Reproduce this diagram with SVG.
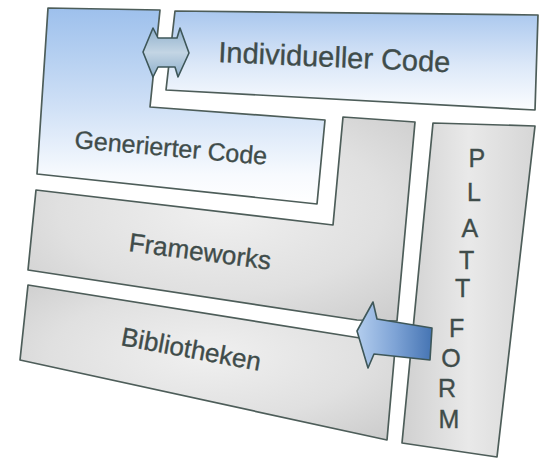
<svg xmlns="http://www.w3.org/2000/svg" width="539" height="463" viewBox="0 0 539 463">
  <defs>
    <linearGradient id="blueInd" x1="0" y1="0" x2="0" y2="1">
      <stop offset="0" stop-color="#a9c7ee"/>
      <stop offset="0.55" stop-color="#dce8f8"/>
      <stop offset="1" stop-color="#fbfdff"/>
    </linearGradient>
    <linearGradient id="blueGen" x1="0" y1="0" x2="0" y2="1">
      <stop offset="0" stop-color="#9dc0ec"/>
      <stop offset="0.5" stop-color="#cfe0f6"/>
      <stop offset="0.85" stop-color="#f7fafe"/>
      <stop offset="1" stop-color="#ffffff"/>
    </linearGradient>
    <radialGradient id="gray" cx="0.5" cy="0.45" r="0.7">
      <stop offset="0" stop-color="#f0f0f0"/>
      <stop offset="0.6" stop-color="#e0e0e0"/>
      <stop offset="1" stop-color="#cdcdcd"/>
    </radialGradient>
    <linearGradient id="grayCol" x1="0" y1="0" x2="1" y2="0">
      <stop offset="0" stop-color="#d0d0d0"/>
      <stop offset="0.5" stop-color="#e9e9e9"/>
      <stop offset="1" stop-color="#d6d6d6"/>
    </linearGradient>
    <linearGradient id="arrowBlue" x1="0" y1="0" x2="1" y2="0">
      <stop offset="0" stop-color="#b3cdee"/>
      <stop offset="0.5" stop-color="#7fa4d6"/>
      <stop offset="1" stop-color="#4574b3"/>
    </linearGradient>
    <linearGradient id="arrowGray" x1="0" y1="0" x2="0" y2="1">
      <stop offset="0" stop-color="#8fb0cc"/>
      <stop offset="0.5" stop-color="#c3d5e4"/>
      <stop offset="1" stop-color="#8fb0cc"/>
    </linearGradient>
  </defs>
  <style>
    .box { stroke: #4d5d59; stroke-width: 1.7; stroke-linejoin: round; }
    .lbl { font-family: "Liberation Sans", Arial, sans-serif; fill: #3f4c4a; stroke: #3f4c4a; stroke-width: 0.35; }
    .arr { stroke: #3e5759; stroke-width: 1.6; stroke-linejoin: round; }
  </style>
  <rect width="539" height="463" fill="#ffffff"/>

  <g id="individueller-code">
    <polygon class="box" fill="url(#blueInd)" points="175,11 538,15 535,110 166,90"/>
    <text class="lbl" font-size="29" transform="translate(218,62) rotate(2.5)">Individueller Code</text>
  </g>

  <g id="generierter-code">
    <polygon class="box" fill="url(#blueGen)" points="48,8 160,10 150,107 325,120 317,204 37,174"/>
    <text class="lbl" font-size="25" transform="translate(74,148) rotate(5)">Generierter Code</text>
  </g>

  <g id="frameworks">
    <polygon class="box" fill="url(#gray)" points="36,190 333,225 343,117 415,122 397,321 357,320 28,270"/>
    <text class="lbl" font-size="26" transform="translate(128,251) rotate(7.5)">Frameworks</text>
  </g>

  <g id="bibliotheken">
    <polygon class="box" fill="url(#gray)" points="28,285 360,338 396,338 387,440 20,360"/>
    <text class="lbl" font-size="26" transform="translate(120,345) rotate(10.5)">Bibliotheken</text>
  </g>

  <g id="plattform">
    <polygon class="box" fill="url(#grayCol)" points="433,123 535,126 497,457 402,443"/>
    <text class="lbl" font-size="25" text-anchor="middle">
      <tspan x="480" y="167">P</tspan>
      <tspan x="477" y="201">L</tspan>
      <tspan x="472.5" y="237">A</tspan>
      <tspan x="470" y="269">T</tspan>
      <tspan x="466" y="297">T</tspan>
      <tspan x="460" y="337">F</tspan>
      <tspan x="454.5" y="367">O</tspan>
      <tspan x="450.5" y="397">R</tspan>
      <tspan x="449" y="428">M</tspan>
    </text>
  </g>

  <g id="connectors">
    <polygon class="arr" fill="url(#arrowGray)" points="143,52 153,28 158,38 177,38 180,28 189,53 178,77 175,67 158,67 153,77"/>
    <polygon class="arr" fill="url(#arrowBlue)" points="357,331 373,302 377,319 432,328 430,360 374,354 368,368"/>
  </g>
</svg>
